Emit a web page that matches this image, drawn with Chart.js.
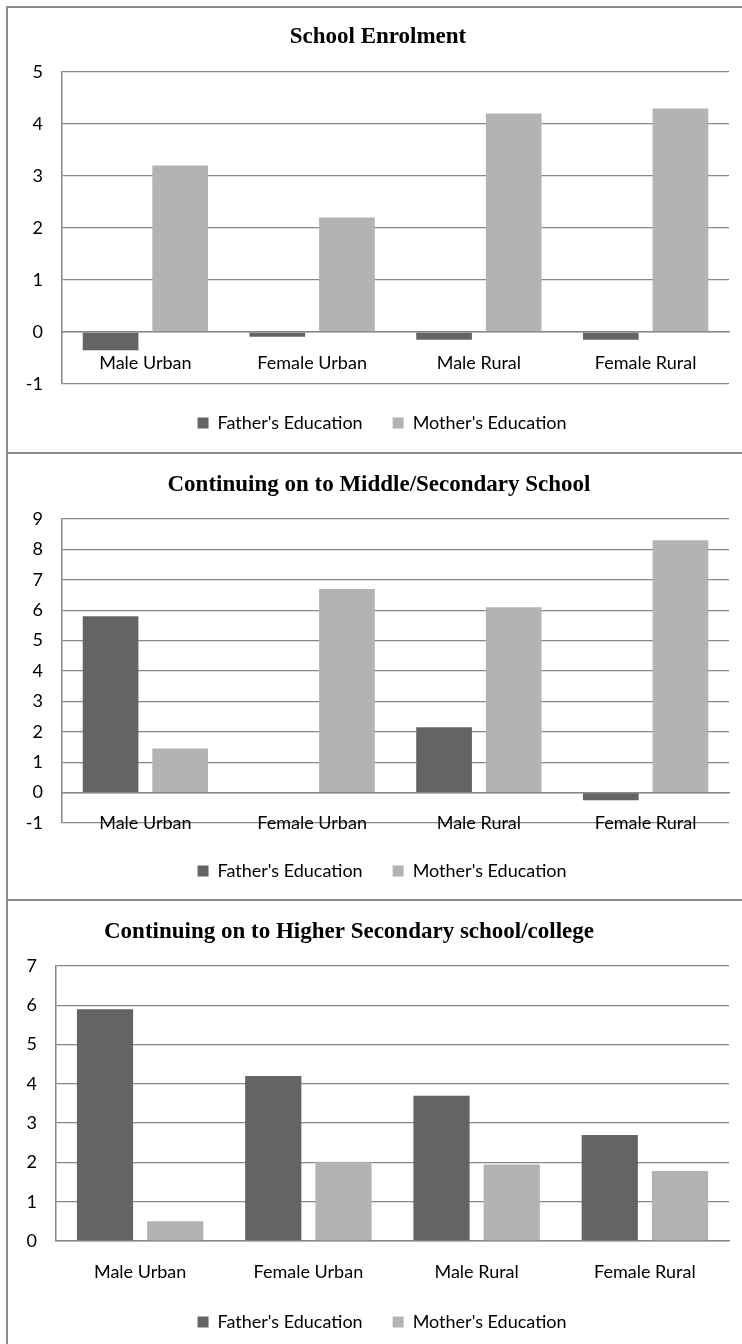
<!DOCTYPE html>
<html>
<head>
<meta charset="utf-8">
<script src="https://cdn.jsdelivr.net/npm/chart.js@4.4.1/dist/chart.umd.min.js"></script>
<style>
  html, body { margin: 0; padding: 0; background: #ffffff; }
  body { width: 742px; height: 1344px; position: relative; overflow: hidden; }
  .panel { position: absolute; left: 6px; width: 736px; border-left: 2px solid #8c8c8c; border-top: 2px solid #8c8c8c; box-sizing: border-box; }
  .cv { position: absolute; left: 8px; width: 734px; }
</style>
</head>
<body>
<div class="panel" style="top:6px;height:446px;"></div>
<div class="panel" style="top:452px;height:449px;"></div>
<div class="panel" style="top:899px;height:445px;"></div>
<div class="cv" style="top:8px;height:444px;"><canvas id="c1"></canvas></div>
<div class="cv" style="top:454px;height:445px;"><canvas id="c2"></canvas></div>
<div class="cv" style="top:901px;height:443px;"><canvas id="c3"></canvas></div>
<script>
// ---- data ----
const categories = ["Male Urban", "Female Urban", "Male Rural", "Female Rural"];
const seriesNames = ["Father's Education", "Mother's Education"];

const titles = [
  "School Enrolment",
  "Continuing on to Middle/Secondary School",
  "Continuing on to Higher Secondary school/college"
];

const enrolFather = [-0.35, -0.09, -0.15, -0.15];
const enrolMother = [3.2, 2.2, 4.2, 4.3];

const middleFather = [5.8, 0, 2.15, -0.25];
const middleMother = [1.45, 6.7, 6.1, 8.3];

const higherFather = [5.9, 4.2, 3.7, 2.7];
const higherMother = [0.5, 2.02, 1.95, 1.78];

const yRange1 = [-1, 5];
const yRange2 = [-1, 9];
const yRange3 = [0, 7];

// ---- styling ----
const fatherColor = '#646464';
const motherColor = '#b3b3b3';
const gridColor = '#878787';
const tickFont = { family: 'Lato', size: 18 };

const titlePlugin = {
  id: 'customTitle',
  afterDraw(chart, args, opts) {
    const ctx = chart.ctx;
    ctx.save();
    ctx.font = 'bold 23px "Liberation Serif"';
    ctx.fillStyle = '#000000';
    ctx.textAlign = 'center';
    ctx.textBaseline = 'middle';
    ctx.fillText(opts.text, opts.x, opts.y);
    ctx.restore();
  }
};

function makeChart(id, title, father, mother, yRange, geo) {
  return new Chart(document.getElementById(id), {
    type: 'bar',
    data: {
      labels: categories,
      datasets: [
        { label: seriesNames[0], data: father, backgroundColor: fatherColor, xAxisID: 'x', yAxisID: 'y',
          categoryPercentage: 0.835, barPercentage: 0.8 },
        { label: seriesNames[1], data: mother, backgroundColor: motherColor, xAxisID: 'x', yAxisID: 'y',
          categoryPercentage: 0.835, barPercentage: 0.8 }
      ]
    },
    options: {
      responsive: true,
      maintainAspectRatio: false,
      animation: false,
      layout: { padding: { top: geo.top, left: 14, right: 0, bottom: geo.bottom } },
      scales: {
        x: {
          position: { y: 0 },
          grid: { display: false, drawTicks: false },
          border: { display: true, color: gridColor, width: 1.5 },
          ticks: { font: tickFont, color: '#000000', padding: 20, maxRotation: 0 }
        },
        xs: {
          type: 'category',
          position: 'bottom',
          grid: { display: false, drawTicks: false },
          border: { display: false },
          ticks: { display: false },
          afterFit(scale) { scale.height = geo.gap; }
        },
        y: {
          min: yRange[0],
          max: yRange[1],
          grid: { color: gridColor, lineWidth: 1.3, drawTicks: false },
          border: { display: true, color: gridColor, width: 1.5 },
          ticks: { stepSize: 1, font: tickFont, color: '#000000', padding: 19 },
          afterFit(scale) { scale.width = geo.yw; }
        },
        yr: {
          type: 'linear',
          position: 'right',
          grid: { display: false, drawTicks: false },
          border: { display: false },
          ticks: { display: false },
          afterFit(scale) { scale.width = 13; }
        }
      },
      plugins: {
        legend: {
          position: 'bottom',
          labels: { font: tickFont, color: '#000000', boxWidth: 11, boxHeight: 11, padding: 30 }
        },
        tooltip: { enabled: false },
        customTitle: { text: title, x: geo.tx, y: geo.ty }
      }
    },
    plugins: [titlePlugin]
  });
}

makeChart('c1', titles[0], enrolFather, enrolMother, yRange1,
  { top: 64, bottom: 10, gap: 0, yw: 40, tx: 370, ty: 29 });
makeChart('c2', titles[1], middleFather, middleMother, yRange2,
  { top: 65, bottom: 9, gap: 9, yw: 40, tx: 371, ty: 31 });
makeChart('c3', titles[2], higherFather, higherMother, yRange3,
  { top: 65, bottom: 3, gap: 42, yw: 34, tx: 341, ty: 31 });
</script>
</body>
</html>
